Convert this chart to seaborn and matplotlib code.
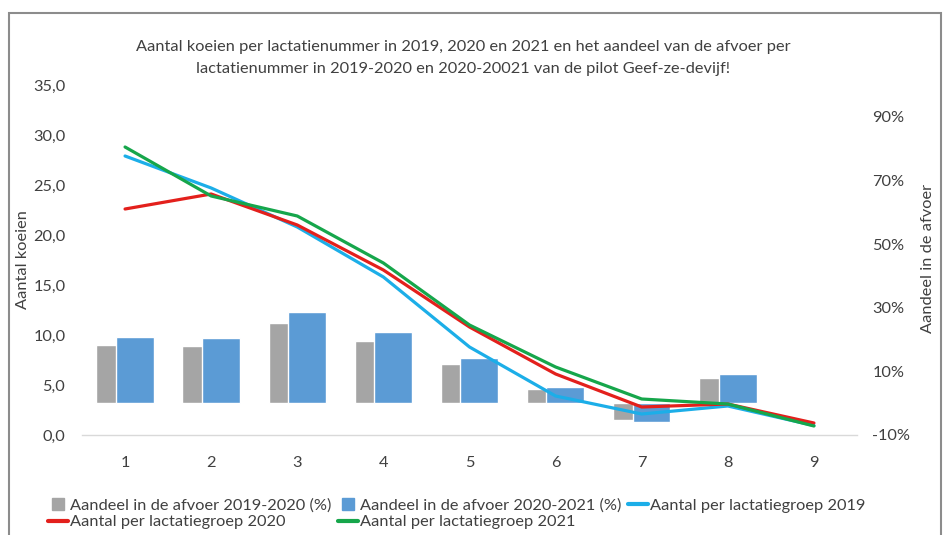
import numpy as np
import pandas as pd
import matplotlib
matplotlib.use("Agg")
import matplotlib.pyplot as plt
import matplotlib.patches as mpatches
from matplotlib.lines import Line2D
from matplotlib.ticker import FuncFormatter
import seaborn as sns

# data
lactatie = [1, 2, 3, 4, 5, 6, 7, 8, 9]
afvoer_2019_2020 = [18.3, 17.9, 25.1, 19.4, 12.3, 4.5, -5.3, 8.0, 0.0]   # %
afvoer_2020_2021 = [20.8, 20.6, 28.6, 22.3, 14.2, 5.1, -6.0, 9.3, 0.0]   # %
aantal_2019 = [27.9, 24.7, 20.8, 15.8, 8.8, 3.9, 2.1, 2.9, 0.95]
aantal_2020 = [22.6, 24.1, 21.0, 16.5, 10.8, 6.1, 2.8, 3.1, 1.2]
aantal_2021 = [28.8, 23.9, 21.9, 17.2, 11.0, 6.8, 3.6, 3.1, 0.9]

groepen = ["Aantal per lactatiegroep 2019",
           "Aantal per lactatiegroep 2020",
           "Aantal per lactatiegroep 2021"]
bar_labels = ["Aandeel in de afvoer 2019-2020 (%)",
              "Aandeel in de afvoer 2020-2021 (%)"]

grijs = "#A5A5A5"
blauw = "#5B9BD5"
kleuren = {groepen[0]: "#1CAEE8", groepen[1]: "#E3201C", groepen[2]: "#16A64B"}

df = pd.DataFrame({
    "lactatie": lactatie * 3,
    "aantal": aantal_2019 + aantal_2020 + aantal_2021,
    "groep": [groepen[0]] * 9 + [groepen[1]] * 9 + [groepen[2]] * 9,
})

FS = 11.8
sns.set_style("white")
plt.rcParams["font.family"] = ["Lato", "DejaVu Sans"]
plt.rcParams["font.size"] = FS
plt.rcParams["text.color"] = "#404040"

fig = plt.figure(figsize=(9.45, 5.35), dpi=100)
ax = fig.add_axes([82 / 945, 1 - 435 / 535, (857 - 82) / 945, 350 / 535])
ax2 = ax.twinx()

# bars on secondary axis (percentages)
x = np.array(lactatie)
ax2.bar(x - 0.113, afvoer_2019_2020, width=0.44, color=grijs, zorder=2)
ax2.bar(x + 0.113, afvoer_2020_2021, width=0.44, color=blauw, zorder=3)
ax2.set_ylim(-10, 100)
ax2.set_yticks(range(-10, 91, 20))
ax2.yaxis.set_major_formatter(FuncFormatter(lambda v, p: f"{v:.0f}%"))

# lines on primary axis
sns.lineplot(data=df, x="lactatie", y="aantal", hue="groep", palette=kleuren,
             linewidth=2.3, legend=False, ax=ax)
ax.set_zorder(ax2.get_zorder() + 1)
ax.patch.set_visible(False)
ax.set_ylim(0, 35)
ax.set_yticks(range(0, 36, 5))
ax.yaxis.set_major_formatter(FuncFormatter(lambda v, p: f"{v:.1f}".replace(".", ",")))
ax.set_xlim(0.5, 9.5)
ax.set_xticks(lactatie)
ax.set_xlabel("")
ax.set_ylabel("")

for a in (ax, ax2):
    for s in a.spines.values():
        s.set_visible(False)
    a.tick_params(length=0, labelsize=FS, labelcolor="#404040")
ax.spines["bottom"].set_visible(True)
ax.spines["bottom"].set_color("#D9D9D9")
ax.spines["bottom"].set_linewidth(1)
ax.tick_params(axis="x", pad=15)
ax.tick_params(axis="y", pad=12)
ax2.tick_params(axis="y", pad=11)

# titles / labels
fig.text(463 / 945, 1 - 47 / 535,
         "Aantal koeien per lactatienummer in 2019, 2020 en 2021 en het aandeel van de afvoer per",
         ha="center", va="center", fontsize=FS)
fig.text(463 / 945, 1 - 69 / 535,
         "lactatienummer in 2019-2020 en 2020-20021 van de pilot Geef-ze-devijf!",
         ha="center", va="center", fontsize=FS)
fig.text(23 / 945, 1 - 260 / 535, "Aantal koeien", rotation=90,
         ha="center", va="center", fontsize=FS)
fig.text(928 / 945, 1 - 258 / 535, "Aandeel in de afvoer", rotation=90,
         ha="center", va="center", fontsize=FS)

# legend (column-major order so rows match the reference)
h_gray = Line2D([], [], marker="s", ls="", color=grijs, markersize=8)
h_blue = Line2D([], [], marker="s", ls="", color=blauw, markersize=8)
h_l = [Line2D([], [], color=kleuren[g], lw=3) for g in groepen]
handles = [h_gray, h_l[1], h_blue, h_l[2], h_l[0]]
labels = [bar_labels[0], groepen[1], bar_labels[1], groepen[2], groepen[0]]
fig.legend(handles, labels, ncol=3, loc="center left",
           bbox_to_anchor=(40 / 945, 1 - 514 / 535), frameon=False,
           handlelength=1.2, handletextpad=0.15, columnspacing=0.4,
           labelspacing=0.1, borderpad=0, fontsize=FS)

# chart border
fig.patches.append(mpatches.Rectangle((9 / 945, -0.05), 932 / 945, 1.05 - 13 / 535,
                                      transform=fig.transFigure, fill=False,
                                      edgecolor="#8C8C8C", linewidth=1.5))

fig.savefig("out.png", dpi=100)
